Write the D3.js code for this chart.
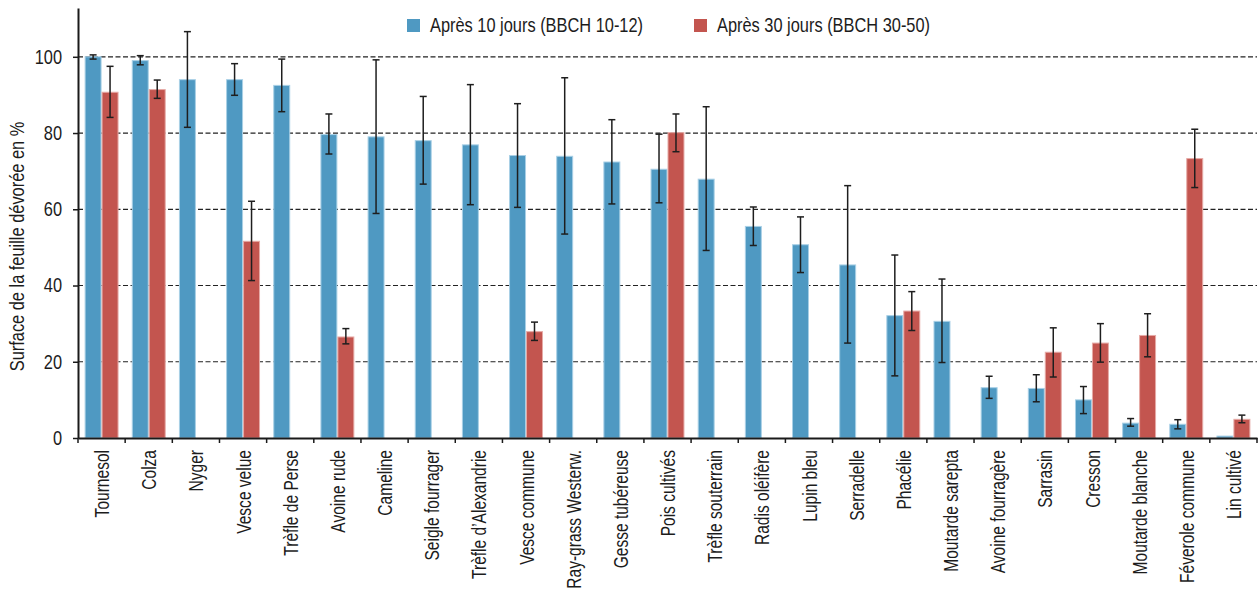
<!DOCTYPE html>
<html>
<head>
<meta charset="utf-8">
<script src="https://cdn.jsdelivr.net/npm/d3@7"></script>
<style>
	body { margin: 0; background: #fff; }
	svg text { font-family: "Liberation Sans", Arial, sans-serif; fill: #1c1c1c; font-size: 20px; }
</style>
</head>
<body>
<svg width="1258" height="592"></svg>
<script>
const categories = [
	'Tournesol', 'Colza', 'Nyger', 'Vesce velue', 'Trèfle de Perse', 'Avoine rude',
	'Cameline', 'Seigle fourrager', 'Trèfle d’Alexandrie', 'Vesce commune',
	'Ray-grass Westerw.', 'Gesse tubéreuse', 'Pois cultivés', 'Trèfle souterrain',
	'Radis oléifère', 'Lupin bleu', 'Serradelle', 'Phacélie', 'Moutarde sarepta',
	'Avoine fourragère', 'Sarrasin', 'Cresson', 'Moutarde blanche',
	'Féverole commune', 'Lin cultivé'
];
// après 10 jours (BBCH 10-12)
const after10   = [100, 99.0, 94.0, 94.0, 92.5, 79.6, 79.0, 78.0, 76.9, 74.1, 73.9, 72.4, 70.5, 67.9, 55.5, 50.7, 45.4, 32.1, 30.6, 13.2, 13.0, 10.0, 3.9, 3.6, 0.5];
const after10Lo = [99.4, 97.9, 81.5, 89.9, 85.6, 74.5, 58.9, 66.6, 61.2, 60.5, 53.5, 61.4, 61.7, 49.2, 50.5, 43.4, 24.9, 16.3, 19.8, 10.4, 9.5, 6.4, 3.1, 2.4, null];
const after10Hi = [100.5, 100.3, 106.6, 98.2, 99.4, 85.0, 99.2, 89.6, 92.7, 87.7, 94.5, 83.5, 79.7, 86.9, 60.6, 58.0, 66.2, 48.0, 41.7, 16.2, 16.6, 13.5, 5.1, 4.8, null];
// après 30 jours (BBCH 30-50)
const after30   = [90.7, 91.4, null, 51.6, null, 26.5, null, null, null, 27.9, null, null, 80.1, null, null, null, null, 33.3, null, null, 22.5, 24.9, 26.9, 73.3, 4.9];
const after30Lo = [84.1, 89.1, null, 41.3, null, 24.7, null, null, null, 25.6, null, null, 75.1, null, null, null, null, 28.2, null, null, 16.0, 19.9, 21.3, 65.7, 4.0];
const after30Hi = [97.5, 93.9, null, 62.1, null, 28.7, null, null, null, 30.4, null, null, 85.0, null, null, null, null, 38.4, null, null, 28.9, 30.0, 32.6, 81.0, 6.0];
const yTicks = [0, 20, 40, 60, 80, 100];
const seriesNames = ['Après 10 jours (BBCH 10-12)', 'Après 30 jours (BBCH 30-50)'];
const colors = ['#4f99c2', '#c3554f'];
const strokes = ['#a9d0e6', '#e6aaa6'];

// the original uses a condensed face, squeeze text along its baseline
const narrow = 'scale(0.82,1)';
const narrowLabel = 'scale(0.74,1)';

const svg = d3.select('svg');
const plotLeft = 78, plotRight = 1257, plotBottom = 438, plotTop = 8;

const x = d3.scaleBand().domain(categories).range([plotLeft, plotRight]).padding(0);
const xSub = d3.scaleBand().domain([0, 1]).range([0, x.bandwidth()]).paddingInner(0).paddingOuter(0.39);
const y = d3.scaleLinear().domain([0, 112.8]).range([plotBottom, plotTop]);

// gridlines
svg.append('g').selectAll('line')
	.data(yTicks.filter(d => d > 0)).enter().append('line')
	.attr('x1', plotLeft).attr('x2', plotRight)
	.attr('y1', d => y(d)).attr('y2', d => y(d))
	.attr('stroke', '#222').attr('stroke-width', 1.2)
	.attr('stroke-dasharray', '5,2.5');

// build rows for bars
const rows = [];
categories.forEach((c, i) => {
	rows.push({c: c, s: 0, v: after10[i], lo: after10Lo[i], hi: after10Hi[i]});
	if(after30[i] != null) rows.push({c: c, s: 1, v: after30[i], lo: after30Lo[i], hi: after30Hi[i]});
});

svg.append('g').selectAll('rect')
	.data(rows).enter().append('rect')
	.attr('x', d => x(d.c) + xSub(d.s) + 0.5)
	.attr('y', d => y(d.v))
	.attr('width', xSub.bandwidth() - 1)
	.attr('height', d => y(0) - y(d.v))
	.attr('fill', d => colors[d.s])
	.attr('stroke', d => strokes[d.s]).attr('stroke-width', 1);

// error bars
const errs = svg.append('g').selectAll('g')
	.data(rows.filter(d => d.lo != null)).enter().append('g')
	.attr('stroke', '#1e1e1e').attr('stroke-width', 1.5);
const cx = d => x(d.c) + xSub(d.s) + xSub.bandwidth() / 2;
errs.append('line').attr('x1', cx).attr('x2', cx).attr('y1', d => y(d.lo)).attr('y2', d => y(d.hi));
errs.append('line').attr('x1', d => cx(d) - 3.5).attr('x2', d => cx(d) + 3.5).attr('y1', d => y(d.lo)).attr('y2', d => y(d.lo));
errs.append('line').attr('x1', d => cx(d) - 3.5).attr('x2', d => cx(d) + 3.5).attr('y1', d => y(d.hi)).attr('y2', d => y(d.hi));

// y axis
const yAxis = svg.append('g')
	.attr('transform', `translate(${plotLeft},0)`)
	.call(d3.axisLeft(y).tickValues(yTicks).tickSize(5).tickPadding(11).tickSizeOuter(0));
yAxis.select('.domain').attr('stroke', '#1a1a1a').attr('stroke-width', 2);
yAxis.selectAll('.tick line').attr('stroke', '#1a1a1a').attr('stroke-width', 1.5);
yAxis.selectAll('.tick text')
	.attr('fill', null)
	.attr('x', 0).attr('transform', 'translate(-16,0) ' + narrow);

// x axis
const xAxis = svg.append('g')
	.attr('transform', `translate(0,${plotBottom})`)
	.call(d3.axisBottom(x).tickSize(0).tickSizeOuter(0));
xAxis.select('.domain').attr('stroke', '#1a1a1a').attr('stroke-width', 2);
xAxis.selectAll('.tick text')
	.attr('fill', null)
	.style('font-size', '21px')
	.attr('text-anchor', 'end')
	.attr('transform', 'translate(0,12) rotate(-90) ' + narrowLabel)
	.attr('x', 0).attr('y', 0).attr('dy', '0.36em');
xAxis.append('g').selectAll('line')
	.data(categories.map(c => x(c)).concat([plotRight])).enter().append('line')
	.attr('x1', d => d).attr('x2', d => d)
	.attr('y1', 0).attr('y2', 5)
	.attr('stroke', '#1a1a1a').attr('stroke-width', 1.5);
svg.selectAll('g[font-family]').attr('font-family', null).attr('font-size', null);

// y title
svg.append('text')
	.attr('transform', `translate(24,${(plotBottom + 57) / 2 - 1}) rotate(-90) ` + narrow)
	.attr('text-anchor', 'middle')
	.text('Surface de la feuille dévorée en %');

// legend
const legendX = [407, 694];
const legend = svg.append('g').selectAll('g')
	.data(seriesNames).enter().append('g')
	.attr('transform', (d, i) => `translate(${legendX[i]},19)`);
legend.append('rect').attr('width', 13).attr('height', 13).attr('fill', (d, i) => colors[i]);
legend.append('text').attr('transform', 'translate(23,13) ' + narrow).text(d => d);
</script>
</body>
</html>
